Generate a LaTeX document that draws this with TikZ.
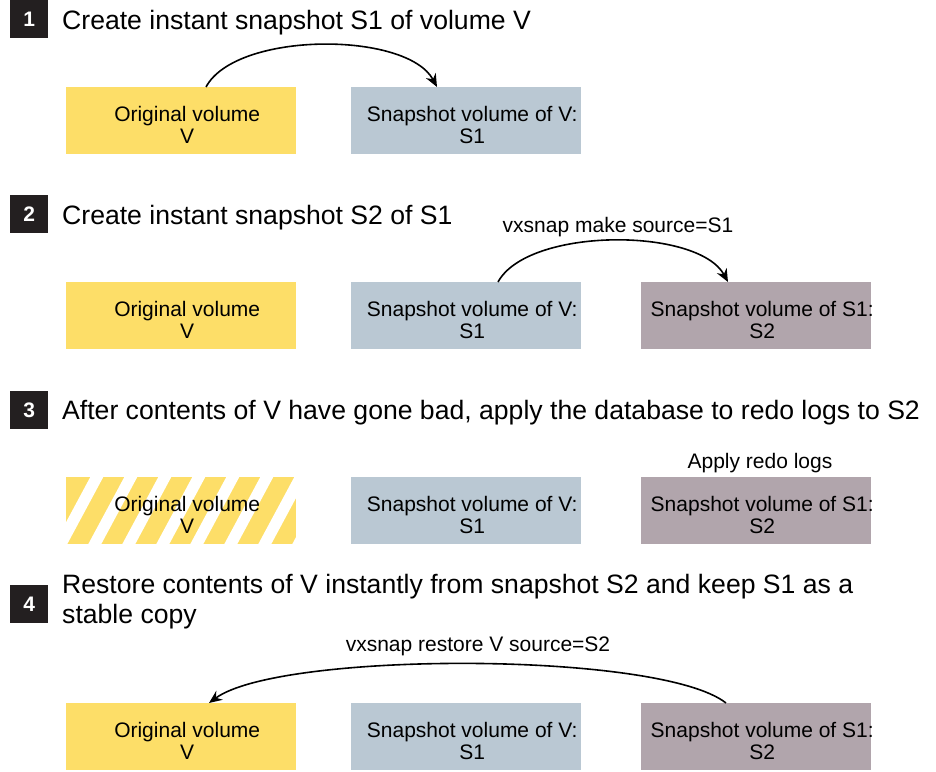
\documentclass[tikz,border=0pt]{standalone}
\usepackage{fontspec}
\setmainfont{Liberation Sans}
\usetikzlibrary{arrows.meta}
\definecolor{volyellow}{HTML}{FDDE68}
\definecolor{snapblue}{HTML}{BAC8D3}
\definecolor{snapmauve}{HTML}{B1A5AC}
\definecolor{badgebg}{HTML}{231F20}
\tikzset{
  volbox/.style={minimum width=230pt, minimum height=67pt, inner sep=0pt, anchor=north west},
  orig/.style={volbox, fill=volyellow},
  snapv/.style={volbox, fill=snapblue},
  snaps/.style={volbox, fill=snapmauve},
  boxtext/.style={font=\fontsize{21}{22}\selectfont, align=center, inner sep=0pt, text=black},
  badge/.style={fill=badgebg, text=white, minimum width=38pt, minimum height=38pt, inner sep=0pt,
    anchor=north west, font=\fontsize{21}{24}\selectfont\bfseries},
  stepttl/.style={anchor=base west, font=\fontsize{26.6}{30}\selectfont, inner sep=0pt, align=left},
  lbl/.style={font=\fontsize{21}{24}\selectfont, inner sep=0pt, anchor=base},
  conn/.style={line width=1.6pt, -{Stealth[length=13pt,width=11pt]}},
}
\newcommand{\boxlabel}[3]{\node[boxtext] (#1) at ([xshift=6pt,yshift=-4pt]#2.center) {#3};}
\begin{document}
\begin{tikzpicture}[x=1pt,y=-1pt]
\useasboundingbox (0,0) rectangle (936,771);

% Step 1
\node[badge] (b1) at (10,0) {1};
\node[stepttl] (t1) at (62,29) {Create instant snapshot S1 of volume V};
\node[orig] (v1) at (66,87) {};
\node[snapv] (s11) at (351,87) {};
\boxlabel{v1t}{v1}{Original volume\\V}
\boxlabel{s11t}{s11}{Snapshot volume of V:\\S1}
\draw[conn] (206,87) coordinate (a1s) .. controls (236,31) and (407,31) .. (437,87) coordinate (a1e);

% Step 2
\node[badge] (b2) at (10,195) {2};
\node[stepttl] (t2) at (62,224) {Create instant snapshot S2 of S1};
\node[orig] (v2) at (66,282) {};
\node[snapv] (s12) at (351,282) {};
\node[snaps] (s22) at (641,282) {};
\boxlabel{v2t}{v2}{Original volume\\V}
\boxlabel{s12t}{s12}{Snapshot volume of V:\\S1}
\boxlabel{s22t}{s22}{Snapshot volume of S1:\\S2}
\node[lbl] (l2) at (618,232) {vxsnap make source=S1};
\draw[conn] (498,282) coordinate (a2s) .. controls (528,227) and (698,227) .. (728,282) coordinate (a2e);

% Step 3
\node[badge] (b3) at (10,391) {3};
\node[stepttl] (t3) at (62,419) {After contents of V have gone bad, apply the database to redo logs to S2};
\node[volbox, fill=volyellow, path picture={
  \foreach \k in {0,...,7}{
    \fill[white] ([xshift={-12pt+34pt*\k}]path picture bounding box.south west)
      -- ++(13pt,0pt) -- ++(36pt,67pt) -- ++(-13pt,0pt) -- cycle;
  }}] (v3) at (66,477) {};
\node[snapv] (s13) at (351,477) {};
\node[snaps] (s23) at (641,477) {};
\boxlabel{v3t}{v3}{Original volume\\V}
\boxlabel{s13t}{s13}{Snapshot volume of V:\\S1}
\boxlabel{s23t}{s23}{Snapshot volume of S1:\\S2}
\node[lbl] (l3) at (760,468) {Apply redo logs};

% Step 4
\node[badge] (b4) at (10,585) {4};
\node[stepttl] (t4) at (62,593) {Restore contents of V instantly from snapshot S2 and keep S1 as a};
\node[stepttl] (t4b) at (62,623) {stable copy};
\node[orig] (v4) at (66,703) {};
\node[snapv] (s14) at (351,703) {};
\node[snaps] (s24) at (641,703) {};
\boxlabel{v4t}{v4}{Original volume\\V}
\boxlabel{s14t}{s14}{Snapshot volume of V:\\S1}
\boxlabel{s24t}{s24}{Snapshot volume of S1:\\S2}
\node[lbl] (l4) at (478,651) {vxsnap restore V source=S2};
\draw[conn] (726,703) coordinate (a4s) .. controls (660,651) and (280,651) .. (209,703) coordinate (a4e);
\end{tikzpicture}
\end{document}
